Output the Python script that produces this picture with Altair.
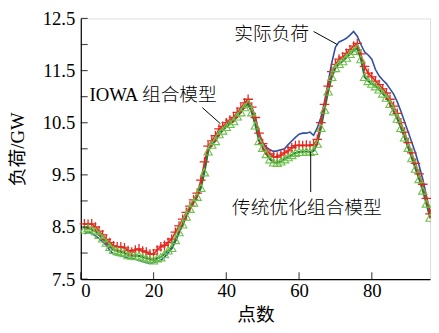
import altair as alt
import pandas as pd

# ---------------- data ----------------
t = list(range(1, 97))

actual = [8.37, 8.40, 8.38, 8.33, 8.28, 8.22, 8.15, 8.05, 7.98, 7.96,
          7.95, 7.93, 7.90, 7.90, 7.88, 7.86, 7.84, 7.82, 7.80, 7.82,
          7.84, 7.86, 7.92, 8.00, 8.08, 8.22, 8.38, 8.55, 8.70, 8.84,
          8.98, 9.10, 9.30, 9.60, 9.95, 10.08, 10.15, 10.30, 10.40, 10.45,
          10.52, 10.58, 10.66, 10.75, 10.88, 10.93, 10.80, 10.60, 10.30, 10.12,
          10.03, 9.98, 9.95, 9.96, 9.98, 10.00, 10.08, 10.15, 10.22, 10.28,
          10.30, 10.30, 10.32, 10.26, 10.40, 10.60, 10.90, 11.28, 11.65, 11.95,
          12.05, 12.08, 12.12, 12.18, 12.25, 12.16, 12.00, 11.86, 11.80, 11.72,
          11.52, 11.40, 11.32, 11.25, 11.15, 11.05, 10.90, 10.72, 10.52, 10.32,
          10.12, 9.92, 9.68, 9.42, 9.10, 8.80]

iowa = [8.56, 8.55, 8.56, 8.50, 8.42, 8.35, 8.26, 8.20, 8.14, 8.12,
        8.12, 8.10, 8.05, 8.02, 8.06, 8.08, 8.04, 8.02, 7.98, 7.98,
        8.06, 8.12, 8.15, 8.20, 8.27, 8.40, 8.52, 8.65, 8.78, 8.90,
        9.02, 9.15, 9.40, 9.75, 10.05, 10.15, 10.25, 10.38, 10.43, 10.50,
        10.55, 10.60, 10.70, 10.78, 10.88, 10.95, 10.80, 10.60, 10.30, 10.10,
        9.98, 9.90, 9.85, 9.84, 9.88, 9.92, 9.96, 10.02, 10.06, 10.07,
        10.06, 10.07, 10.06, 10.08, 10.18, 10.50, 10.85, 11.20, 11.48, 11.62,
        11.72, 11.76, 11.83, 11.90, 11.97, 12.02, 11.82, 11.58, 11.45, 11.38,
        11.30, 11.23, 11.15, 11.07, 10.95, 10.82, 10.68, 10.50, 10.32, 10.12,
        9.92, 9.72, 9.52, 9.32, 9.05, 8.75]

trad = [8.45, 8.48, 8.45, 8.42, 8.35, 8.28, 8.20, 8.12, 8.06, 8.04,
        8.02, 8.00, 7.96, 7.95, 7.94, 7.95, 7.92, 7.90, 7.88, 7.86,
        7.90, 7.92, 7.98, 8.05, 8.10, 8.25, 8.40, 8.55, 8.70, 8.85,
        8.97, 9.08, 9.25, 9.55, 9.95, 10.08, 10.15, 10.28, 10.35, 10.42,
        10.48, 10.53, 10.62, 10.70, 10.80, 10.86, 10.70, 10.45, 10.15, 10.02,
        9.90, 9.80, 9.74, 9.73, 9.76, 9.80, 9.84, 9.88, 9.92, 9.94,
        9.94, 9.95, 9.94, 9.96, 10.10, 10.40, 10.75, 11.10, 11.38, 11.55,
        11.63, 11.68, 11.75, 11.82, 11.88, 11.93, 11.72, 11.38, 11.30, 11.25,
        11.20, 11.14, 11.06, 10.98, 10.86, 10.72, 10.58, 10.40, 10.22, 10.02,
        9.82, 9.62, 9.42, 9.20, 8.95, 8.68]

x_ticks = [0, 20, 40, 60, 80]
y_labels = [7.5, 8.5, 9.5, 10.5, 11.5, 12.5]
y_ticks = [7.5, 8.0, 8.5, 9.0, 9.5, 10.0, 10.5, 11.0, 11.5, 12.0, 12.5]

# annotation texts and their anchor points (data coordinates)
ann_text = ["实际负荷", "IOWA 组合模型", "传统优化组合模型"]
ann_x = [42.2, 2.4, 41.6]
ann_y = [12.2, 11.03, 8.86]
# leader lines (data coordinates)
lead_x = [64.0, 33.4, 63.2]
lead_y = [12.25, 10.79, 9.17]
lead_x2 = [70.5, 38.4, 63.2]
lead_y2 = [12.0, 10.48, 9.94]

# ---------------- chart ----------------
W, H = 355, 265
TK = 7  # inward tick length
df = pd.DataFrame({"t": t, "actual": actual, "iowa": iowa, "trad": trad})
ann = pd.DataFrame({"x": ann_x, "y": ann_y, "text": ann_text})
lead = pd.DataFrame({"x": lead_x, "y": lead_y, "x2": lead_x2, "y2": lead_y2})
xt = pd.DataFrame({"v": x_ticks})
yt = pd.DataFrame({"v": y_ticks})

NUM_FONT = "Liberation Serif"
CJK_FONT = "Liberation Serif, Noto Sans CJK SC"
FS = 19

xs = alt.Scale(domain=[0, 96], nice=False, zero=False)
ys = alt.Scale(domain=[7.5, 12.5], nice=False, zero=False)

x_axis_main = alt.Axis(values=x_ticks, ticks=False, tickSize=0, grid=False, format="d",
                       labelFont=NUM_FONT, labelFontSize=FS, labelColor="black",
                       labelPadding=3, domainColor="black", domainWidth=1.2,
                       title="点数", titleFont=CJK_FONT, titleFontSize=FS,
                       titleFontWeight="normal", titleColor="black", titlePadding=5)
y_axis_main = alt.Axis(values=y_labels, ticks=False, tickSize=0, grid=False, format=".1f",
                       labelFont=NUM_FONT, labelFontSize=FS, labelColor="black",
                       labelPadding=6, domainColor="black", domainWidth=1.2,
                       title="负荷/GW", titleFont=CJK_FONT, titleFontSize=FS,
                       titleFontWeight="normal", titleColor="black", titlePadding=15)

base = alt.Chart(df)

blue = base.mark_line(color="#2f4fa6", strokeWidth=1.6).encode(
    x=alt.X("t:Q", scale=xs, axis=x_axis_main),
    y=alt.Y("actual:Q", scale=ys, axis=y_axis_main),
)

red_line = base.mark_line(color="#e3281f", strokeWidth=1.5).encode(
    x=alt.X("t:Q"), y=alt.Y("iowa:Q"),
)
red_pts = base.mark_point(shape="M-1,0L1,0M0,-1L0,1", size=95, filled=False,
                          color="#e3281f", strokeWidth=1.3, opacity=1).encode(
    x=alt.X("t:Q"), y=alt.Y("iowa:Q"),
)

green_line = base.mark_line(color="#1d7a3a", strokeWidth=2).encode(
    x=alt.X("t:Q"), y=alt.Y("trad:Q"),
)
green_pts = base.mark_point(shape="triangle-up", size=72, filled=False,
                            color="#6cc247", strokeWidth=1.1, opacity=1).encode(
    x=alt.X("t:Q"), y=alt.Y("trad:Q"),
)

# inward ticks
y_tick_marks = alt.Chart(yt).mark_tick(orient="horizontal", color="black",
                                       thickness=1.2, size=TK).encode(
    y=alt.Y("v:Q"), x=alt.value(TK / 2),
)
x_tick_marks = alt.Chart(xt).mark_tick(orient="vertical", color="black",
                                       thickness=1.2, size=TK).encode(
    x=alt.X("v:Q"), y=alt.value(H - TK / 2),
)

leaders = alt.Chart(lead).mark_rule(color="black", strokeWidth=1).encode(
    x=alt.X("x:Q"), y=alt.Y("y:Q"), x2="x2:Q", y2="y2:Q",
)

labels = alt.Chart(ann).mark_text(align="left", baseline="middle", font=CJK_FONT,
                                  fontSize=FS, fontWeight=300, color="black").encode(
    x=alt.X("x:Q"), y=alt.Y("y:Q"), text="text:N",
)

chart = alt.layer(
    blue, green_line, red_line, red_pts, green_pts,
    y_tick_marks, x_tick_marks, leaders, labels
).properties(
    width=W, height=H,
    autosize=alt.AutoSizeParams(type="none"),
    padding={"left": 74, "top": 8, "right": 1, "bottom": 44},
).configure_view(stroke="black", strokeWidth=1.2, clip=False).configure(background="white")

chart.save("out.html", embed_options={"renderer": "svg", "actions": False})
